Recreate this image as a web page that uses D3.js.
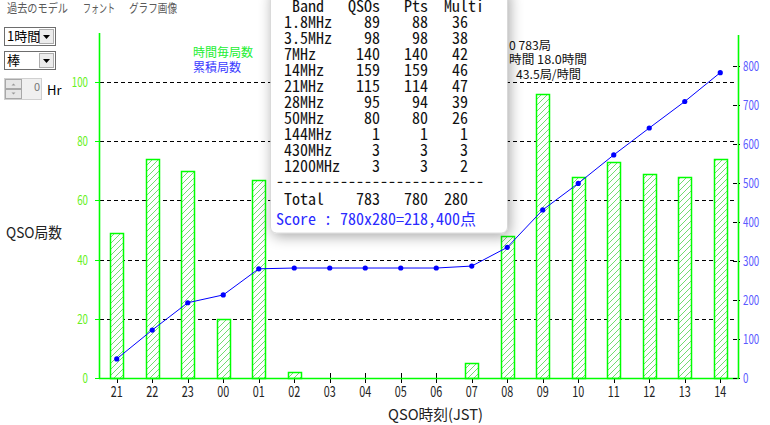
<!DOCTYPE html>
<html><head><meta charset="utf-8">
<script src="https://cdn.jsdelivr.net/npm/d3@7"></script>
<style>body{margin:0;background:#fff;overflow:hidden}svg{display:block}</style>
</head><body>
<svg id="c" width="770" height="425"></svg>
<script>
// ---------- data ----------
const hours = ["21","22","23","00","01","02","03","04","05","06","07","08","09","10","11","12","13","14"];
const hourlyQSO = [49,74,70,20,67,2,0,0,0,0,5,48,96,68,73,69,68,74];
const cumulativeQSO = [49,123,193,213,280,282,282,282,282,282,287,335,431,499,572,641,709,783];
const leftTicks = [0,20,40,60,80,100];
const rightTicks = [0,100,200,300,400,500,600,700,800];
const bands = ["1.8MHz","3.5MHz","7MHz","14MHz","21MHz","28MHz","50MHz","144MHz","430MHz","1200MHz"];
const bandQSOs = [89,98,140,159,115,95,80,1,3,3];
const bandPts = [88,98,140,159,114,94,80,1,3,3];
const bandMulti = [36,38,42,46,47,39,26,1,3,2];
const summaryLines = [["総QS","0 783局"],["運用","時間 18.0時間"],["平均 ","43.5局/時間"]];
const menuItems = ["過去のモデル","フォント","グラフ画像"];
const legendItems = ["時間毎局数","累積局数"];

// ---------- setup ----------
const svg = d3.select('#c');
const defs = svg.append('defs');
const pat = defs.append('pattern').attr('id','hatch').attr('patternUnits','userSpaceOnUse')
  .attr('width',6).attr('height',6);
pat.append('rect').attr('width',6).attr('height',6).attr('fill','#fff');
pat.append('path').attr('d','M0,6 L6,0 M-1,1 L1,-1 M5,7 L7,5')
  .attr('stroke','#3c3').attr('stroke-width',0.7);
const f = defs.append('filter').attr('id','sh').attr('x','-20%').attr('y','-20%').attr('width','140%').attr('height','140%');
f.append('feGaussianBlur').attr('in','SourceAlpha').attr('stdDeviation',7);
f.append('feOffset').attr('dx',2).attr('dy',3).attr('result','o');
const ct = f.append('feComponentTransfer'); ct.append('feFuncA').attr('type','linear').attr('slope',0.35);
const fm = f.append('feMerge'); fm.append('feMergeNode'); fm.append('feMergeNode').attr('in','SourceGraphic');

const UI = "'Noto Sans CJK JP','Noto Sans',sans-serif";
const MONO = "'Noto Sans Mono CJK JP','DejaVu Sans Mono',monospace";
const cols = s => Array.from(s).reduce((a,c)=>a+(c.charCodeAt(0)>255?2:1),0);
const fit = (sel,w) => sel.attr('textLength',w).attr('lengthAdjust','spacingAndGlyphs');

const x = d3.scaleBand().domain(hours).range([99,738]);
const bw = x.bandwidth();
const cx = d => x(d) + bw/2;
const yL = d3.scaleLinear().domain([0,100]).range([378,82]);
const yR = d3.scaleLinear().domain([0,800]).range([378,66]);

// ---------- menu ----------
const menuX = [7,83,129], menuW = [61,32,48];
menuItems.forEach((m,i)=>{
  fit(svg.append('text').attr('x',menuX[i]).attr('y',13).attr('font-family',UI).attr('font-size',12)
    .attr('fill','#5a5a5a').text(m), menuW[i]);
});

// ---------- controls ----------
function dropdown(y, label){
  svg.append('rect').attr('x',4.5).attr('y',y+.5).attr('width',51).attr('height',18)
    .attr('fill','#fff').attr('stroke','#6d6d6d');
  svg.append('rect').attr('x',39.5).attr('y',y+2.5).attr('width',14).attr('height',14)
    .attr('fill','#ececec').attr('stroke','#adadad');
  svg.append('path').attr('d',`M43,${y+8} L50,${y+8} L46.5,${y+12} Z`).attr('fill','#000');
  svg.append('text').attr('x',7).attr('y',y+14).attr('font-family',UI).attr('font-size',13)
    .attr('fill','#000').text(label);
}
dropdown(27,'1時間');
dropdown(51,'棒');
svg.append('rect').attr('x',4.5).attr('y',78.5).attr('width',37).attr('height',21).attr('fill','#f0f0f0').attr('stroke','#d0d0d0');
svg.append('rect').attr('x',5.5).attr('y',79.5).attr('width',16).attr('height',9).attr('fill','#e6e6e6').attr('stroke','#a8a8a8');
svg.append('rect').attr('x',5.5).attr('y',89.5).attr('width',16).attr('height',9).attr('fill','#e6e6e6').attr('stroke','#a8a8a8');
svg.append('path').attr('d','M11.5,85.5 L15.5,85.5 L13.5,83.5 Z').attr('fill','#999');
svg.append('path').attr('d','M11.5,92.5 L15.5,92.5 L13.5,94.5 Z').attr('fill','#999');
svg.append('text').attr('x',40).attr('y',91).attr('text-anchor','end').attr('font-family',UI).attr('font-size',11).attr('fill','#777').text('0');
svg.append('text').attr('x',47).attr('y',95).attr('font-family',UI).attr('font-size',13).attr('fill','#000').text('Hr');

// ---------- grid ----------
svg.append('g').selectAll('line').data(leftTicks.filter(t=>t>0)).join('line')
  .attr('x1',100).attr('x2',737).attr('y1',d=>Math.round(yL(d))+.5).attr('y2',d=>Math.round(yL(d))+.5)
  .attr('stroke','#000').attr('stroke-dasharray','4,3').attr('shape-rendering','crispEdges');

// x ticks
svg.append('g').selectAll('line').data(hours).join('line')
  .attr('x1',d=>Math.round(cx(d))+.5).attr('x2',d=>Math.round(cx(d))+.5).attr('y1',373).attr('y2',383)
  .attr('stroke','#000').attr('shape-rendering','crispEdges');

// bars
const barW = bw*0.37;
svg.append('g').selectAll('rect').data(hours).join('rect')
  .attr('x',(d)=>Math.round(cx(d)-barW/2)+.5)
  .attr('y',(d,i)=>Math.round(yL(hourlyQSO[i]))+.5)
  .attr('width',Math.round(barW))
  .attr('height',(d,i)=>Math.max(0,Math.round(yL(0))-Math.round(yL(hourlyQSO[i]))))
  .attr('fill','url(#hatch)').attr('stroke','#00ff00').attr('stroke-width',1.5)
  .style('display',(d,i)=>hourlyQSO[i]>0?null:'none');

// axes lines
const G = '#00ff00';
svg.append('line').attr('x1',99.5).attr('x2',99.5).attr('y1',33).attr('y2',379).attr('stroke',G).attr('stroke-width',1.6);
svg.append('line').attr('x1',738.5).attr('x2',738.5).attr('y1',35).attr('y2',379).attr('stroke',G).attr('stroke-width',1.6);
svg.append('line').attr('x1',99).attr('x2',739).attr('y1',378.5).attr('y2',378.5).attr('stroke',G).attr('stroke-width',1.6);

// left ticks & labels
svg.append('g').selectAll('line').data(leftTicks).join('line')
  .attr('x1',95).attr('x2',99).attr('y1',d=>Math.round(yL(d))+.5).attr('y2',d=>Math.round(yL(d))+.5)
  .attr('stroke',G);
svg.append('g').selectAll('text').data(leftTicks).join('text')
  .attr('x',88).attr('y',d=>yL(d)+5).attr('text-anchor','end')
  .attr('font-family',UI).attr('font-size',13).attr('fill','#66f022')
  .text(d=>d).each(function(d){ fit(d3.select(this), String(d).length*5.4); });

// right ticks & labels
svg.append('g').selectAll('line').data(rightTicks).join('line')
  .attr('x1',733).attr('x2',742).attr('y1',d=>Math.round(yR(d))+.5).attr('y2',d=>Math.round(yR(d))+.5)
  .attr('stroke','#000').attr('stroke-dasharray','4,2,1,9');
svg.append('g').selectAll('text').data(rightTicks).join('text')
  .attr('x',743).attr('y',d=>yR(d)+5)
  .attr('font-family',UI).attr('font-size',13).attr('fill','#5a5aff')
  .text(d=>d).each(function(d){ fit(d3.select(this), String(d).length*5.4); });

// x labels
svg.append('g').selectAll('text').data(hours).join('text')
  .attr('x',d=>cx(d)).attr('y',397).attr('text-anchor','middle')
  .attr('font-family',UI).attr('font-size',15).attr('fill','#222')
  .text(d=>d).each(function(){ fit(d3.select(this),12); });

fit(svg.append('text').attr('x',388).attr('y',420).attr('font-family',UI).attr('font-size',15).attr('fill','#222').text('QSO時刻(JST)'),95);
fit(svg.append('text').attr('x',6).attr('y',238).attr('font-family',UI).attr('font-size',15).attr('fill','#222').text('QSO局数'),56);

// cumulative line
const line = d3.line().x((d,i)=>cx(hours[i])).y(d=>yR(d));
svg.append('path').datum(cumulativeQSO).attr('d',line).attr('fill','none').attr('stroke','#0000ff').attr('stroke-width',1);
svg.append('g').selectAll('circle').data(cumulativeQSO).join('circle')
  .attr('cx',(d,i)=>cx(hours[i])).attr('cy',d=>yR(d)).attr('r',2.6).attr('fill','#0000ff');

// legend
svg.append('text').attr('x',193).attr('y',57).attr('font-family',UI).attr('font-size',12).attr('fill','#22ee33').text(legendItems[0]);
svg.append('text').attr('x',193).attr('y',72).attr('font-family',UI).attr('font-size',12).attr('fill','#3a3aff').text(legendItems[1]);

// summary text (partly behind popup)
const sumX = [509,509,516], sumY = [50,64,79], sumW = [42,78,65];
summaryLines.forEach((l,i)=>{
  svg.append('text').attr('x',Math.min(sumX[i],507)).attr('y',sumY[i]).attr('text-anchor','end').attr('font-family',UI).attr('font-size',12).attr('fill','#111').text(l[0]);
  fit(svg.append('text').attr('x',sumX[i]).attr('y',sumY[i]).attr('font-family',UI).attr('font-size',12).attr('fill','#111').text(l[1]), sumW[i]);
});

// ---------- popup ----------
const pop = svg.append('g');
pop.append('rect').attr('x',270.5).attr('y',-12).attr('width',237).attr('height',245).attr('rx',6)
  .attr('fill','#fff').attr('stroke','#c8c8c8').attr('stroke-width',0.6).attr('filter','url(#sh)');
const C0 = 284, CW = 8;
function ptxt(col, y, s, anchor, color){
  const t = pop.append('text').attr('y',y).attr('font-family',MONO).attr('font-size',16)
    .attr('fill',color||'#111').text(s);
  if(anchor==='end'){ t.attr('x',C0+col*CW).attr('text-anchor','end'); }
  else t.attr('x',C0+col*CW);
  fit(t, cols(s)*CW);
}
ptxt(1,12,'Band'); ptxt(8,12,'QSOs'); ptxt(15,12,'Pts'); ptxt(20,12,'Multi');
bands.forEach((b,i)=>{
  const y = 28 + i*16;
  ptxt(0,y,b);
  ptxt(12,y,String(bandQSOs[i]),'end');
  ptxt(18,y,String(bandPts[i]),'end');
  ptxt(23,y,String(bandMulti[i]),'end');
});
ptxt(-1,187,'-'.repeat(26));
const totQ = d3.sum(bandQSOs), totP = d3.sum(bandPts), totM = d3.sum(bandMulti);
ptxt(0,205,'Total'); ptxt(12,205,String(totQ),'end'); ptxt(18,205,String(totP),'end'); ptxt(23,205,String(totM),'end');
ptxt(-1,225,`Score : ${totP}x${totM}=${d3.format(',')(totP*totM)}点`,null,'#2a2aff');
</script>
</body></html>
